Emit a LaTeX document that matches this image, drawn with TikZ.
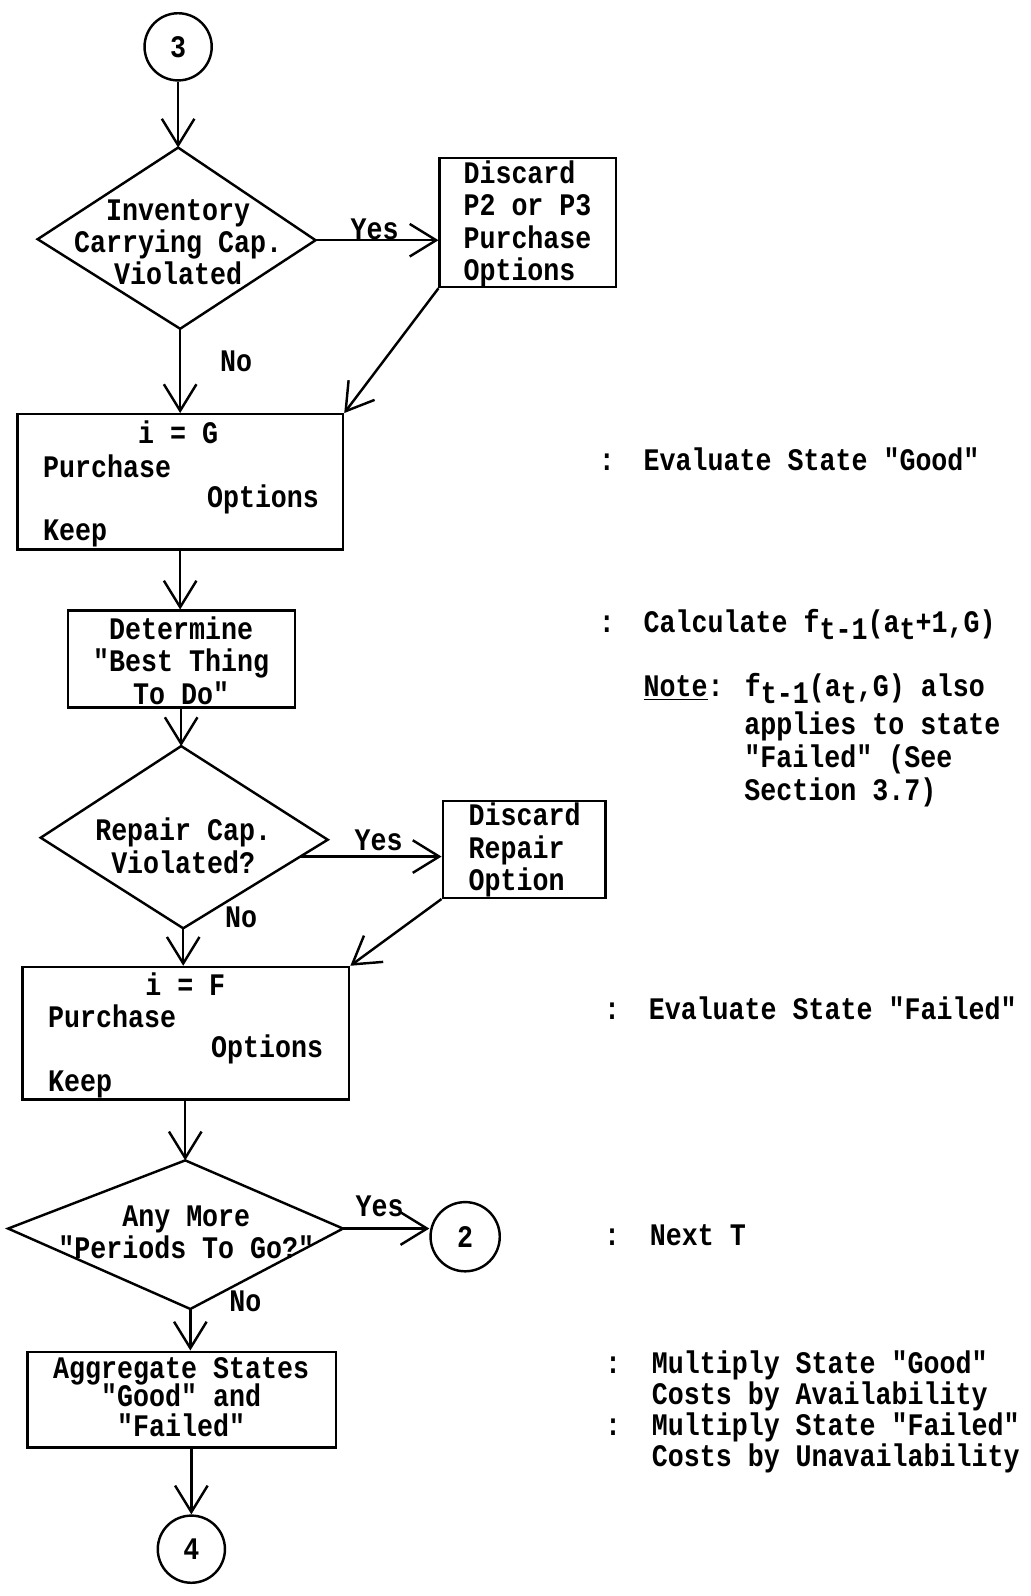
\documentclass[tikz,border=0pt]{standalone}
\usepackage{fontspec}
\usetikzlibrary{arrows.meta,calc}
% typewriter face used for every label
\newfontfamily\tw{Liberation Mono}[FakeStretch=0.85]
\newcommand\twfont{\tw\bfseries\fontsize{15.4pt}{15.85pt}\selectfont}
\newcommand\lowsub[1]{\raisebox{-3.5pt}{#1}}
\begin{document}
\begin{tikzpicture}[x=0.5pt,y=-0.5pt,
  every node/.style={font=\twfont, inner sep=0pt},
  box/.style={draw, line width=1.2pt, rectangle},
  conn/.style={draw, line width=1.2pt, circle, minimum size=33pt},
  flow/.style={line width=1.2pt, line join=miter},
  arr/.style={line width=1.2pt, -{Straight Barb[length=13pt,width=16pt]}},
  note/.style={anchor=base west}]

\fill[white] (0,0) rectangle (1012,1568);
\path[use as bounding box] (0,0) rectangle (1012,1568);

% ---------- shapes ----------
\node[conn] (c3) at (175,46) {3};

\coordinate (d1t) at (175,145);
\coordinate (d1r) at (310,236);
\coordinate (d1b) at (177,323);
\coordinate (d1l) at (37,235);
\draw[flow] (d1t) -- (d1r) -- (d1b) -- (d1l) -- cycle;
\node[align=center] (d1x) at (175,238) {Inventory\\Carrying Cap.\\Violated};

\node[box, minimum width=86.5pt, minimum height=63.5pt] (disc1) at (518.5,218.5) {};
\node[align=left, anchor=west] (disc1x) at (455,220) {Discard\\P2 or P3\\Purchase\\Options};

\node[box, minimum width=160pt, minimum height=66.5pt] (boxG) at (177,473.5) {};
\node[anchor=base] (gi) at (175,436) {i = G};
\node[note] (gp) at (42,469) {Purchase};
\node[note] (go) at (203,499) {Options};
\node[note] (gk) at (42,531) {Keep};

\node[box, minimum width=111.5pt, minimum height=47.5pt] (det) at (178.5,647.5) {};
\node[align=center] (detx) at (178,649) {Determine\\"Best Thing\\To Do"};

\coordinate (d2t) at (178,733);
\coordinate (d2r) at (322,825);
\coordinate (d2b) at (180,912);
\coordinate (d2l) at (40,823);
\draw[flow] (d2t) -- (d2r) -- (d2b) -- (d2l) -- cycle;
\node[align=center] (d2x) at (180,831) {Repair Cap.\\Violated?};

\node[box, minimum width=80pt, minimum height=47.5pt] (disc2) at (515,834.5) {};
\node[align=left, anchor=west] (disc2x) at (460,835) {Discard\\Repair\\Option};

\node[box, minimum width=160.5pt, minimum height=65pt] (boxF) at (182.5,1015) {};
\node[anchor=base] (fi) at (182,978) {i = F};
\node[note] (fp) at (47,1009) {Purchase};
\node[note] (fo) at (207,1039) {Options};
\node[note] (fk) at (47,1072) {Keep};

\coordinate (d3t) at (182,1140);
\coordinate (d3r) at (337,1207);
\coordinate (d3b) at (187,1286);
\coordinate (d3l) at (8,1207);
\draw[flow] (d3t) -- (d3r) -- (d3b) -- (d3l) -- cycle;
\node[align=center] (d3x) at (183,1211) {Any More\\"Periods To Go?"};

\node[conn, minimum size=34pt] (c2) at (457,1215) {2};

\node[box, minimum width=151.5pt, minimum height=47pt] (agg) at (178.5,1375) {};
\node[anchor=base] (agg1) at (178,1354) {Aggregate States};
\node[anchor=base] (agg2) at (178,1382) {"Good" and};
\node[anchor=base] (agg3) at (178,1411) {"Failed"};

\node[conn] (c4) at (188,1522) {4};

% ---------- connectors ----------
\draw[arr] (c3) -- (d1t);
\draw[arr] (d1r) -- (d1r -| disc1.west);
\node[anchor=base] (y1) at (368,235) {Yes};
\draw[arr] (d1b) -- (d1b |- boxG.north);
\node[anchor=base] (n1) at (232,365) {No};
\draw[arr] (disc1.south west) -- (boxG.north east);

\draw[arr] (boxG.south) -- (boxG.south |- det.north);
\draw[arr] (det.south -| d2t) -- (d2t);

\coordinate (d2y) at ($(d2r)!0.19!(d2b)$);
\draw[arr] (d2y) -- (d2y -| disc2.west);
\node[anchor=base] (y2) at (372,836) {Yes};
\draw[arr] (d2b) -- (d2b |- boxF.north);
\node[anchor=base] (n2) at (237,911) {No};
\draw[arr] (disc2.south west) -- (boxF.north east);

\draw[arr] (boxF.south -| d3t) -- (d3t);
\draw[arr] (d3r) -- (d3r -| c2.west);
\node[anchor=base] (y3) at (373,1195) {Yes};
\draw[arr] (d3b) -- (d3b |- agg.north);
\node[anchor=base] (n3) at (241,1288) {No};
\draw[arr] (c4.north |- agg.south) -- (c4.north);

% ---------- side notes ----------
\node[note] (k1) at (588,462) {:};
\node[note] (t1) at (632,462) {Evaluate State "Good"};

\node[note] (k2) at (588,621) {:};
\node[note] (t2) at (632,621) {Calculate f\lowsub{t-1}(a\lowsub{t}+1,G)};
\node[note] (t3) at (632,684) {\underline{Note}: f\lowsub{t-1}(a\lowsub{t},G) also};
\node[note] (t4) at (731,722) {applies to state};
\node[note] (t5) at (731,754) {"Failed" (See};
\node[note] (t6) at (731,786) {Section 3.7)};

\node[note] (k3) at (593,1002) {:};
\node[note] (t7) at (637,1002) {Evaluate State "Failed"};

\node[note] (k4) at (593,1224) {:};
\node[note] (t8) at (638,1224) {Next T};

\node[note] (k5) at (594,1349) {:};
\node[note] (t9) at (640,1349) {Multiply State "Good"};
\node[note] (t10) at (640,1380) {Costs by Availability};
\node[note] (k6) at (594,1410) {:};
\node[note] (t11) at (640,1410) {Multiply State "Failed"};
\node[note] (t12) at (640,1441) {Costs by Unavailability};

\end{tikzpicture}
\end{document}
